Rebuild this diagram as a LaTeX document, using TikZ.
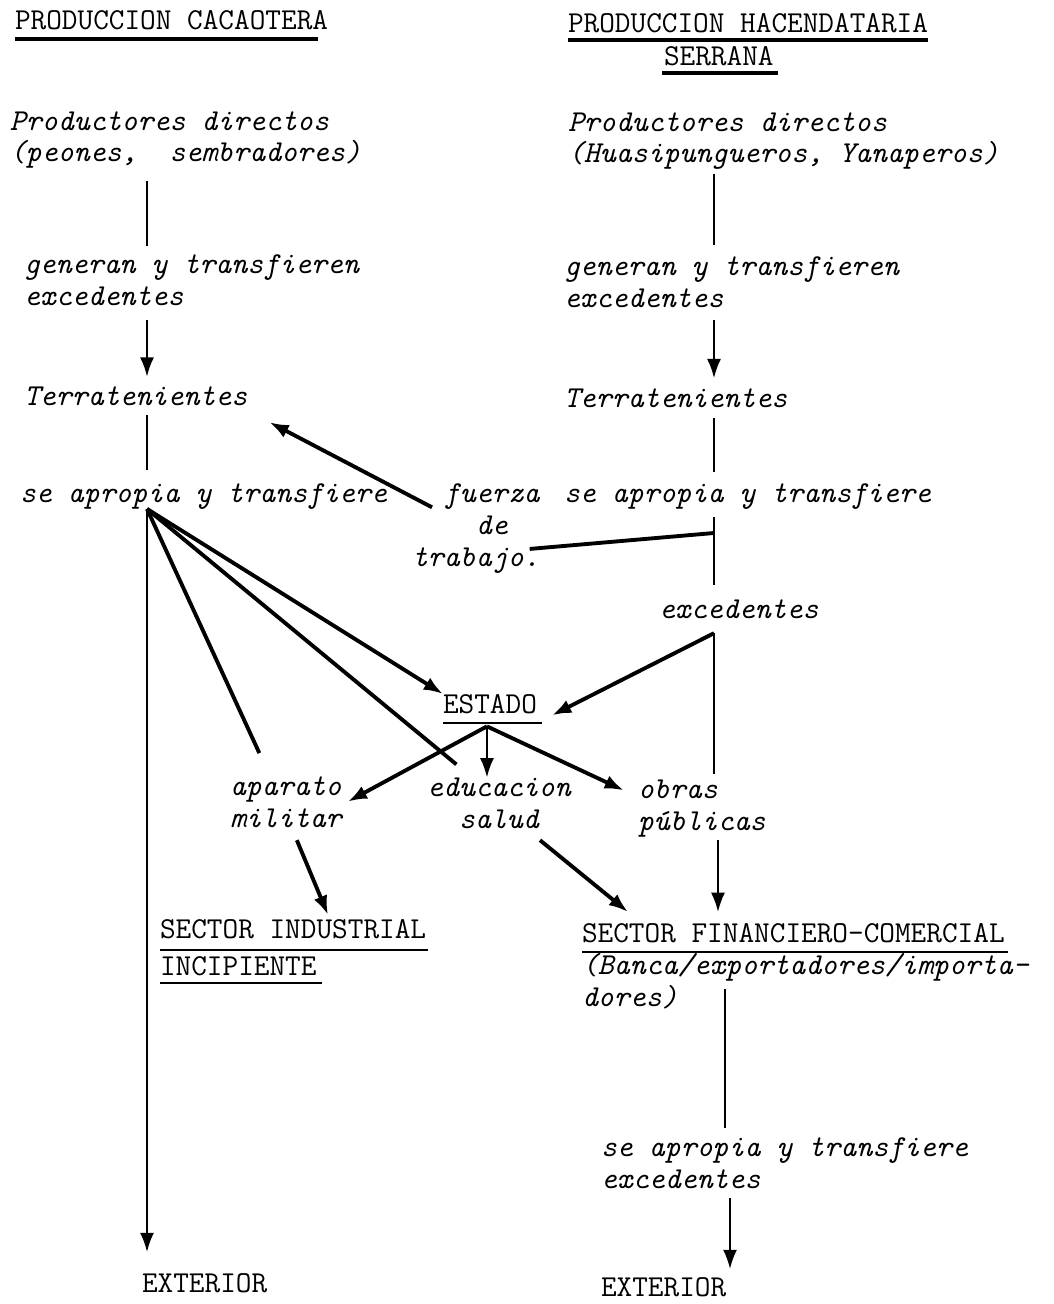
\documentclass[tikz,border=0pt]{standalone}
\usepackage{fontspec}
\usetikzlibrary{arrows.meta}

\begin{document}
\begin{tikzpicture}[x=0.02cm,y=-0.02cm,
  texto/.style={inner sep=0pt,outer sep=0pt,anchor=base west,align=left,
    font=\ttfamily\itshape\fontsize{17.3}{18.2}\selectfont},
  mayus/.style={texto,font=\ttfamily\upshape\fontsize{17.3}{18.2}\selectfont},
  linea/.style={line width=\fino},
  flecha/.style={line width=\grueso,-{Latex[length=11pt,width=8pt]}},
  subrayado/.style={line width=\fino}]

\def\fino{1.3pt}
\def\grueso{2.2pt}

\useasboundingbox (0,0) rectangle (1054,1304);

\coordinate (ejeIzq) at (147,0);
\coordinate (ejeDer) at (714,0);
\coordinate (ejeFin) at (725,0);

\node[mayus] (tituloIzq) at (15,30) {PRODUCCION CACAOTERA};
\node[mayus] (tituloDer) at (568,33) {PRODUCCION HACENDATARIA};
\node[mayus] (serrana) at (664,66) {SERRANA};

\node[texto] (prodIzq) at (10,162) {Productores directos\\(peones,\ \ sembradores)};
\node[texto] (prodDer) at (568,163) {Productores directos\\(Huasipungueros, Yanaperos)};
\node[texto] (genIzq) at (24,305) {generan y transfieren\\excedentes};
\node[texto] (genDer) at (564,307) {generan y transfieren\\excedentes};
\node[texto] (terrIzq) at (24,405) {Terratenientes};
\node[texto] (terrDer) at (564,407) {Terratenientes};
\node[texto] (aprIzq) at (20,502) {se apropia y transfiere};
\node[texto] (aprDer) at (564,502) {se apropia y transfiere};
\node[texto] (fuerza) at (412,566) {\hspace*{1.05em}fuerza\\\hspace*{2.1em}de\\trabajo.};
\node[texto] (excDer) at (659,618) {excedentes};

\node[mayus] (estado) at (443,713) {ESTADO};
\node[texto] (aparato) at (230,827) {aparato\\militar};
\node[texto,anchor=base,align=center] (educ) at (499,828) {educacion\\salud};
\node[texto] (obras) at (638,830) {obras\\públicas};

\node[mayus] (sectorInd) at (160,938) {SECTOR INDUSTRIAL};
\node[mayus] (incip) at (160,975) {INCIPIENTE};
\node[mayus] (sectorFin) at (582,942) {SECTOR FINANCIERO-COMERCIAL};
\node[texto] (banca) at (582,1006) {(Banca/exportadores/importa-\\dores)};
\node[texto] (aprFin) at (601,1188) {se apropia y transfiere\\excedentes};

\node[mayus] (extIzq) at (142,1292) {EXTERIOR};
\node[mayus] (extDer) at (601,1296) {EXTERIOR};

\draw[line width=\grueso] ([shift={(0,9)}]tituloIzq.base west) -- ([shift={(-10,9)}]tituloIzq.base east);
\draw[line width=\grueso] ([shift={(0,7)}]tituloDer.base west) -- ([shift={(0,7)}]tituloDer.base east);
\draw[line width=\grueso] ([shift={(-2,7)}]serrana.base west) -- ([shift={(4,7)}]serrana.base east);
\draw[subrayado] ([shift={(0,10)}]estado.base west) -- ([shift={(5,10)}]estado.base east);
\draw[subrayado] ([shift={(0,12)}]sectorInd.base west) -- ([shift={(2,12)}]sectorInd.base east);
\draw[subrayado] ([shift={(0,8)}]incip.base west) -- ([shift={(5,8)}]incip.base east);
\draw[subrayado] ([shift={(0,10)}]sectorFin.base west) -- ([shift={(3,10)}]sectorFin.base east);

\draw[linea,shorten <=0.24cm,shorten >=0.16cm] (prodIzq.south -| ejeIzq) -- (genIzq.north -| ejeIzq);
\draw[flecha,line width=\fino,shorten <=0.3cm,shorten >=0.19cm] (genIzq.south -| ejeIzq) -- (terrIzq.north -| ejeIzq);
\draw[linea,shorten <=0.2cm,shorten >=0.26cm] (terrIzq.south -| ejeIzq) -- (aprIzq.north -| ejeIzq);

\coordinate (nudoIzq) at (aprIzq.south -| ejeIzq);
\draw[flecha,line width=\fino,shorten >=0.42cm] (nudoIzq) -- (extIzq.north -| nudoIzq);
\draw[flecha] (nudoIzq) -- (estado.north west);
\draw[line width=\grueso,shorten >=0.41cm] (nudoIzq) -- ([shift={(45,0)}]educ.north west);
\draw[line width=\grueso,shorten >=0.51cm] (nudoIzq) -- ([shift={(40,0)}]aparato.north west);

\draw[linea,shorten <=0.08cm,shorten >=0.22cm] (prodDer.south -| ejeDer) -- (genDer.north -| ejeDer);
\draw[flecha,line width=\fino,shorten <=0.26cm,shorten >=0.2cm] (genDer.south -| ejeDer) -- (terrDer.north -| ejeDer);
\draw[linea,shorten <=0.22cm,shorten >=0.22cm] (terrDer.south -| ejeDer) -- (aprDer.north -| ejeDer);
\draw[linea,shorten <=0.16cm,shorten >=0.28cm] (aprDer.south -| ejeDer) -- (excDer.north -| ejeDer);

\coordinate (union) at (714,533);
\draw[line width=\grueso] ([shift={(-10,-24)}]fuerza.south east) -- (union);
\draw[flecha] ([shift={(20,24)}]fuerza.north west) -- ([shift={(22,17)}]terrIzq.south east);

\coordinate (nudoExc) at ([shift={(0,15)}]excDer.south -| ejeDer);
\draw[flecha] (nudoExc) -- ([shift={(15,2)}]estado.south east);
\draw[linea,shorten >=0.1cm] (nudoExc) -- (obras.north -| nudoExc);
\draw[flecha,line width=\fino,shorten <=0.06cm,shorten >=0.22cm] ([xshift=0.08cm]obras.south -| nudoExc) -- ([xshift=0.08cm]sectorFin.north -| nudoExc);

\coordinate (abanico) at ([shift={(-3,13)}]estado.south);
\draw[flecha] (abanico) -- ([shift={(6,0)}]aparato.east);
\draw[flecha,line width=\fino] (abanico) -- (abanico |- educ.north);
\draw[flecha] (abanico) -- ([shift={(-14,11)}]obras.north west);

\draw[flecha] ([shift={(11,13)}]aparato.south) -- ([shift={(35,-4)}]sectorInd.north);
\draw[flecha] ([shift={(41,12)}]educ.south) -- ([shift={(46,-11)}]sectorFin.north west);

\draw[linea,shorten >=0.18cm] ([shift={(0,-20)}]banca.south -| ejeFin) -- (aprFin.north -| ejeFin);
\draw[flecha,line width=\fino,shorten <=0.2cm,shorten >=0.16cm] ([xshift=0.1cm]aprFin.south -| ejeFin) -- ([xshift=0.1cm]extDer.north -| ejeFin);

\end{tikzpicture}
\end{document}
